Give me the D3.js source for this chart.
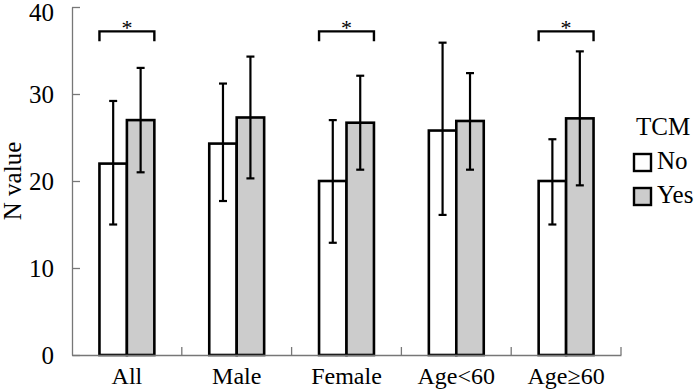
<!DOCTYPE html>
<html><head><meta charset="utf-8">
<script src="https://cdn.jsdelivr.net/npm/d3@7"></script>
<style>html,body{margin:0;padding:0;background:#fff;}svg{display:block;} svg text{font-family:"Liberation Serif","LiberationSerif","Times New Roman",Times,Tinos,"Noto Serif","DejaVu Serif","FreeSerif",serif !important;}</style>
</head><body>
<script>
const categories = ["All", "Male", "Female", "Age<60", "Age\u226560"];
const seriesNames = ["No", "Yes"];
const noMean = [22.0, 24.3, 20.0, 25.8, 20.0];
const noLow  = [15.0, 17.7, 12.9, 16.1, 15.0];
const noHigh = [29.2, 31.2, 27.0, 35.9, 24.8];
const yesMean = [27.0, 27.3, 26.7, 26.9, 27.2];
const yesLow  = [21.0, 20.3, 21.3, 21.3, 19.5];
const yesHigh = [33.0, 34.3, 32.1, 32.4, 34.9];
const significant = ["All", "Female", "Age\u226560"];
const yTicks = [0, 10, 20, 30, 40];
const yLabel = "N value";
const legendTitle = "TCM";

const W = 700, H = 390;
const svg = d3.select("body").append("svg").attr("width", W).attr("height", H);

const x = d3.scaleBand().domain(categories).range([72, 621]).padding(0);
const xi = d3.scaleBand().domain(seriesNames).range([0, x.bandwidth()]).paddingInner(0).paddingOuter(1);
const y = d3.scaleLinear().domain([0, 40]).range([355, 7]);
const fill = d3.scaleOrdinal().domain(seriesNames).range(["#ffffff", "#cccccc"]);

const rows = [];
categories.forEach((c, i) => {
  rows.push({cat: c, s: "No", v: noMean[i], lo: noLow[i], hi: noHigh[i]});
  rows.push({cat: c, s: "Yes", v: yesMean[i], lo: yesLow[i], hi: yesHigh[i]});
});

svg.append("g").selectAll("rect").data(rows).join("rect")
  .attr("x", d => x(d.cat) + xi(d.s))
  .attr("y", d => y(d.v))
  .attr("width", xi.bandwidth())
  .attr("height", d => y(0) - y(d.v))
  .attr("fill", d => fill(d.s))
  .attr("stroke", "#000").attr("stroke-width", 2.6);

const eb = svg.append("g").attr("stroke", "#000").attr("stroke-width", 2.2);
rows.forEach(d => {
  const cx = x(d.cat) + xi(d.s) + xi.bandwidth() / 2;
  eb.append("line").attr("x1", cx).attr("x2", cx).attr("y1", y(d.lo)).attr("y2", y(d.hi));
  eb.append("line").attr("x1", cx - 4).attr("x2", cx + 4).attr("y1", y(d.lo)).attr("y2", y(d.lo));
  eb.append("line").attr("x1", cx - 4).attr("x2", cx + 4).attr("y1", y(d.hi)).attr("y2", y(d.hi));
});

const axisColor = "#777";
const yAxis = svg.append("g").attr("transform", "translate(72,0)")
  .call(d3.axisLeft(y).tickValues(yTicks).tickSizeInner(-8).tickSizeOuter(0).tickPadding(18));
yAxis.attr("font-family", null);
yAxis.select(".domain").attr("stroke", axisColor).attr("stroke-width", 1.3);
yAxis.selectAll(".tick line").attr("stroke", axisColor).attr("stroke-width", 1.3);
yAxis.selectAll("text").attr("font-size", 25).attr("fill", "#000")
  .attr("dy", d => d === 40 ? "0.55em" : "0.32em");

const xAxis = svg.append("g").attr("transform", "translate(0,355)")
  .call(d3.axisBottom(x).tickSize(0).tickPadding(12));
xAxis.attr("font-family", null);
xAxis.select(".domain").attr("stroke", axisColor).attr("stroke-width", 1.3);
xAxis.selectAll("text").attr("font-size", 24).attr("fill", "#000").attr("dy", "0.71em");
const bounds = categories.slice(1).map(c => x(c)).concat([x.range()[1]]);
svg.append("g").selectAll("line").data(bounds).join("line")
  .attr("x1", d => d).attr("x2", d => d).attr("y1", y(0)).attr("y2", y(0) - 8)
  .attr("stroke", axisColor).attr("stroke-width", 1.3);

svg.append("text").attr("transform", "translate(21,181) rotate(-90)")
  .attr("text-anchor", "middle").attr("font-size", 25).text(yLabel);

const br = svg.append("g");
significant.forEach(c => {
  const x0 = x(c) + xi("No"), x1 = x(c) + xi("Yes") + xi.bandwidth();
  const by = y(37.2), leg = 10;
  br.append("path").attr("d", `M${x0},${by + leg}V${by}H${x1}V${by + leg}`)
    .attr("fill", "none").attr("stroke", "#000").attr("stroke-width", 2.4);
  br.append("text").attr("x", (x0 + x1) / 2).attr("y", by + 4).attr("text-anchor", "middle")
    .attr("font-size", 22).attr("fill", "#000").text("*");
});

const lg = svg.append("g");
lg.append("text").attr("x", 636).attr("y", 135).attr("font-size", 25).text(legendTitle);
seriesNames.forEach((s, i) => {
  const yy = 154 + i * 34;
  lg.append("rect").attr("x", 634).attr("y", yy).attr("width", 17).attr("height", 17)
    .attr("fill", fill(s)).attr("stroke", "#000").attr("stroke-width", 2.4);
  lg.append("text").attr("x", 657).attr("y", yy + 15).attr("font-size", 25).text(s);
});
</script>
</body></html>
